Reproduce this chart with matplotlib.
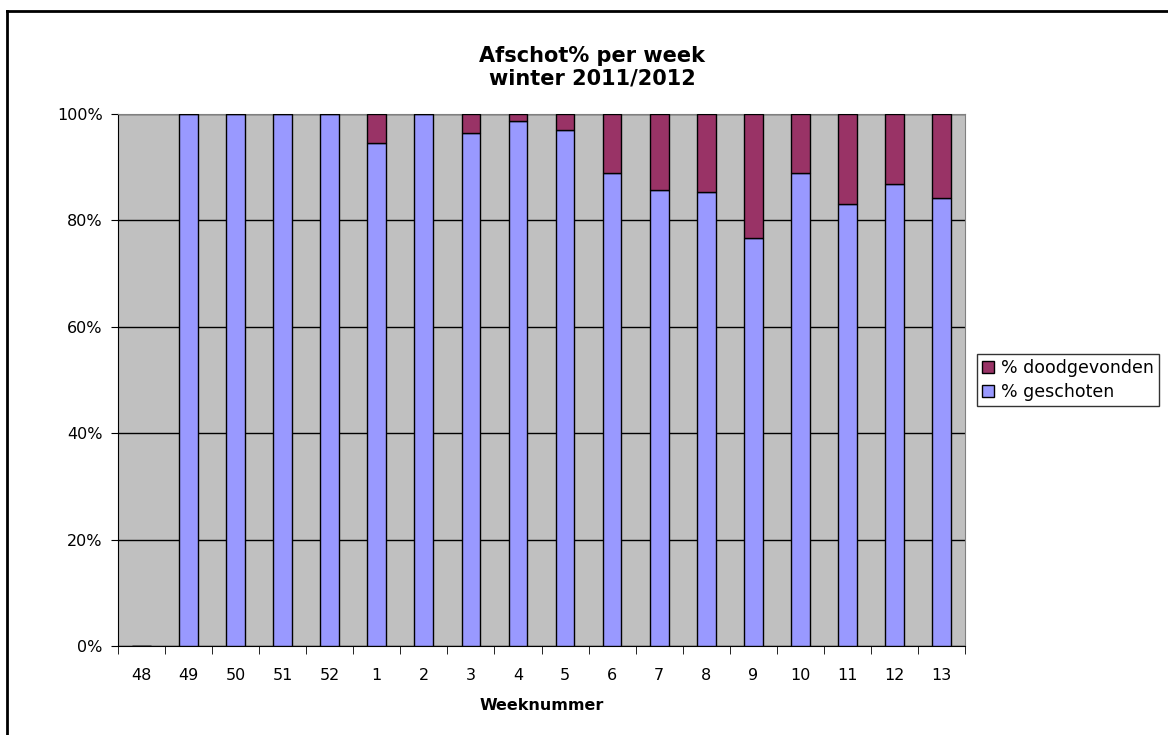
import matplotlib.pyplot as plt
import numpy as np
from matplotlib.lines import Line2D

weeks = ["48", "49", "50", "51", "52", "1", "2", "3", "4", "5",
         "6", "7", "8", "9", "10", "11", "12", "13"]
geschoten = [0, 100, 100, 100, 100, 94.5, 100, 96.4, 98.6, 97.0,
             89.0, 85.8, 85.4, 76.7, 89.0, 83.1, 86.8, 84.3]
doodgevonden = [0, 0, 0, 0, 0, 5.5, 0, 3.6, 1.4, 3.0,
                11.0, 14.2, 14.6, 23.3, 11.0, 16.9, 13.2, 15.7]

plt.rcParams['font.family'] = ['DejaVu Sans']

W, H = 1168, 735
fig = plt.figure(figsize=(W / 100, H / 100), dpi=100)
ax = fig.add_axes([118 / W, 1 - 646 / H, (965 - 118) / W, (646 - 114) / H])
ax.set_facecolor('#C0C0C0')

# chart frame (only top and left are visible in the original)
fig.add_artist(Line2D([7 / W, 1.0], [1 - 11 / H, 1 - 11 / H], color='black', linewidth=2))
fig.add_artist(Line2D([7 / W, 7 / W], [0, 1 - 11 / H], color='black', linewidth=2))

x = np.arange(len(weeks))
ax.bar(x, geschoten, width=0.4, color='#9999FF', edgecolor='black',
       linewidth=1, label='% geschoten', zorder=3)
ax.bar(x, doodgevonden, width=0.4, bottom=geschoten, color='#993366',
       edgecolor='black', linewidth=1, label='% doodgevonden', zorder=3)

ax.set_xlim(-0.5, len(weeks) - 0.5)
ax.set_ylim(0, 100)
ax.set_yticks(range(0, 101, 20))
ax.set_yticklabels([f"{v}%" for v in range(0, 101, 20)], fontsize=11.5)
ax.yaxis.grid(True, color='black', linewidth=1, zorder=1)
ax.set_axisbelow(True)

ax.set_xticks(x)
ax.set_xticklabels(weeks, fontsize=11.5)
ax.tick_params(axis='x', length=0, pad=16)
ax.set_xticks(np.arange(-0.5, len(weeks), 1), minor=True)
ax.tick_params(axis='x', which='minor', length=6, direction='out')
ax.tick_params(axis='y', length=5, direction='out', pad=6)

for s in ['top', 'right']:
    ax.spines[s].set_color('#808080')
for s in ['left', 'bottom']:
    ax.spines[s].set_color('black')

ax.set_xlabel("Weeknummer", fontsize=11.5, fontweight='bold', labelpad=11)

fig.text(0.507, 1 - 67 / H, "Afschot% per week\nwinter 2011/2012",
         ha='center', va='center', fontsize=15, fontweight='bold', linespacing=1.15)

handles, labels = ax.get_legend_handles_labels()
leg = fig.legend(handles[::-1], labels[::-1], loc='center left',
                 bbox_to_anchor=(977 / W, 1 - 380 / H), fontsize=12.5,
                 frameon=True, fancybox=False, edgecolor='black',
                 handlelength=0.7, handleheight=0.7, handletextpad=0.4,
                 borderpad=0.3, labelspacing=0.35, borderaxespad=0)
leg.get_frame().set_linewidth(1)

fig.savefig("out.png", dpi=100)
